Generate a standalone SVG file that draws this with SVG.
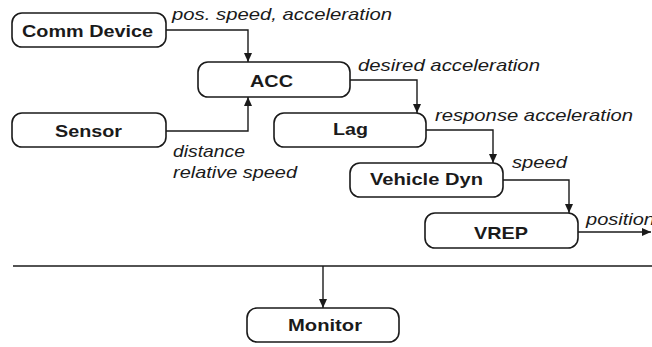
<svg xmlns="http://www.w3.org/2000/svg" width="652" height="347" viewBox="0 0 652 347">
<defs>
<marker id="arr" markerUnits="userSpaceOnUse" markerWidth="10" markerHeight="8" refX="9" refY="4" orient="auto">
<path d="M0,0 L9,4 L0,8 Z" fill="#1a1a1a"/>
</marker>
<style>
.box{fill:#fff;stroke:#1a1a1a;stroke-width:1.6}
.lbl{font-family:"Liberation Sans",Arial,sans-serif;font-weight:bold;font-size:17px;fill:#1a1a1a}
.it{font-family:"Liberation Sans",Arial,sans-serif;font-style:italic;font-size:17px;fill:#1a1a1a}
.con{fill:none;stroke:#1a1a1a;stroke-width:1.4}
.arw{marker-end:url(#arr)}
</style>
</defs>
<rect width="652" height="347" fill="#fff"/>
<g id="connectors">
<path class="con arw" d="M166,30 H248 V62"/>
<path class="con arw" d="M166,131 H248 V97"/>
<path class="con arw" d="M350,80 H417 V113"/>
<path class="con arw" d="M426,130 H493 V163"/>
<path class="con arw" d="M503,180 H569 V213"/>
<path class="con arw" d="M578,232 H651"/>
<path class="con" d="M13,266 H652"/>
<path class="con arw" d="M323,266 V308"/>
</g>
<g id="labels">
<text class="it" x="172" y="20" textLength="220" lengthAdjust="spacingAndGlyphs">pos. speed, acceleration</text>
<text class="it" x="358" y="71" textLength="182" lengthAdjust="spacingAndGlyphs">desired acceleration</text>
<text class="it" x="435" y="121" textLength="198" lengthAdjust="spacingAndGlyphs">response acceleration</text>
<text class="it" x="512" y="168" textLength="55" lengthAdjust="spacingAndGlyphs">speed</text>
<text class="it" x="586" y="225" textLength="69" lengthAdjust="spacingAndGlyphs">position</text>
<text class="it" x="173" y="157" textLength="72" lengthAdjust="spacingAndGlyphs">distance</text>
<text class="it" x="173" y="178" textLength="124" lengthAdjust="spacingAndGlyphs">relative speed</text>
</g>
<g id="comm-device">
<rect class="box" x="12" y="13" width="154" height="34" rx="10"/>
<text class="lbl" x="22" y="37" textLength="131" lengthAdjust="spacingAndGlyphs">Comm Device</text>
</g>
<g id="acc">
<rect class="box" x="198" y="62" width="152" height="35" rx="10"/>
<text class="lbl" x="250" y="87" textLength="43" lengthAdjust="spacingAndGlyphs">ACC</text>
</g>
<g id="sensor">
<rect class="box" x="12" y="113" width="154" height="34" rx="10"/>
<text class="lbl" x="55" y="137" textLength="67" lengthAdjust="spacingAndGlyphs">Sensor</text>
</g>
<g id="lag">
<rect class="box" x="274" y="113" width="152" height="34" rx="10"/>
<text class="lbl" x="333" y="135" textLength="35" lengthAdjust="spacingAndGlyphs">Lag</text>
</g>
<g id="vehicle-dyn">
<rect class="box" x="350" y="163" width="153" height="34" rx="10"/>
<text class="lbl" x="370" y="185" textLength="113" lengthAdjust="spacingAndGlyphs">Vehicle Dyn</text>
</g>
<g id="vrep">
<rect class="box" x="425" y="213" width="153" height="35" rx="10"/>
<text class="lbl" x="474" y="239" textLength="54" lengthAdjust="spacingAndGlyphs">VREP</text>
</g>
<g id="monitor">
<rect class="box" x="247" y="308" width="152" height="34" rx="10"/>
<text class="lbl" x="288" y="331" textLength="74" lengthAdjust="spacingAndGlyphs">Monitor</text>
</g>
</svg>
